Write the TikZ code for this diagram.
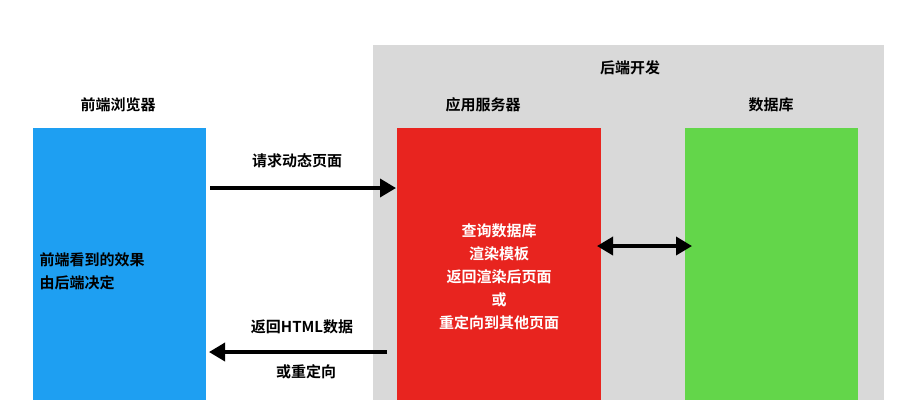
\documentclass[tikz,border=0pt]{standalone}
\usepackage{fontspec}
\setmainfont{Noto Sans CJK SC}[BoldFont={* Bold}]
\usetikzlibrary{arrows.meta}
\definecolor{cblue}{HTML}{1E9FF2}
\definecolor{cred}{HTML}{E8241F}
\definecolor{cgreen}{HTML}{63D64A}
\definecolor{cgray}{HTML}{D9D9D9}
\tikzset{lbl/.style={font=\bfseries\fontsize{15}{15}\selectfont,text=black},
 wtxt/.style={font=\bfseries\fontsize{15}{23}\selectfont,text=white,align=center},
 arr/.style={line width=3.5pt,-{Triangle[length=16pt,width=18pt]}},
 darr/.style={line width=3.5pt,{Triangle[length=16pt,width=18pt]}-{Triangle[length=16pt,width=18pt]}}}
\begin{document}
\begin{tikzpicture}[x=1pt,y=-1pt]
\useasboundingbox[fill=white] (0,0) rectangle (903,400);
\fill[cgray] (373,45) rectangle (884,400);
\fill[cblue] (33,128) rectangle (206,400);
\fill[cred] (397,128) rectangle (601,400);
\fill[cgreen] (685,128) rectangle (858,400);
\node[lbl] (t0) at (630,68) {后端开发};
\node[lbl] (t1) at (118,105) {前端浏览器};
\node[lbl] (t2) at (483,105) {应用服务器};
\node[lbl] (t3) at (771,105) {数据库};
\coordinate (a1) at (210,188); \coordinate (b1) at (396,188);
\draw[arr] (a1) -- (b1);
\node[lbl] (l1) at (297,161) {请求动态页面};
\coordinate (a2) at (387,352); \coordinate (b2) at (209,352);
\draw[arr] (a2) -- (b2);
\node[lbl] (l2) at (302,327) {返回HTML数据};
\node[lbl] (l3) at (306,372) {或重定向};
\coordinate (a3) at (597,246); \coordinate (b3) at (692,246);
\draw[darr] (a3) -- (b3);
\node[wtxt] (r) at (499,277) {查询数据库\\渲染模板\\返回渲染后页面\\或\\重定向到其他页面};
\node[wtxt,font=\bfseries\fontsize{15}{23}\selectfont,text=black,align=left,anchor=west] (bt) at (36,271) {前端看到的效果\\由后端决定};
\end{tikzpicture}
\end{document}
